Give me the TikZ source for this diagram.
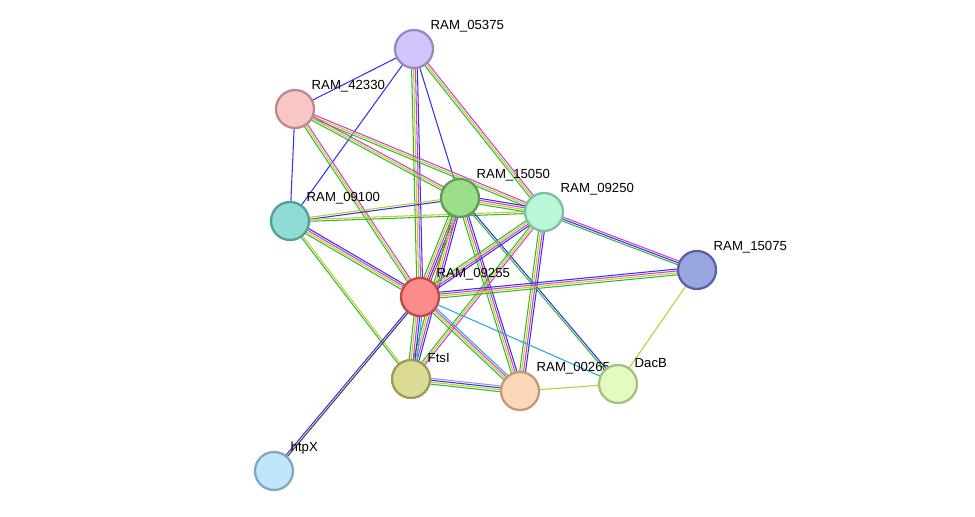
\documentclass[tikz,border=0pt]{standalone}
\usepackage{fontspec}
\setmainfont{Liberation Sans}
\usetikzlibrary{calc,backgrounds}
\definecolor{egreen}{HTML}{33B833}
\definecolor{eyellow}{HTML}{C2CC30}
\definecolor{emag}{HTML}{D03CD0}
\definecolor{eblue}{HTML}{3333E6}
\definecolor{ecyan}{HTML}{22AADD}
\definecolor{elav}{HTML}{A090E8}
\definecolor{ered}{HTML}{E03030}
\definecolor{eblack}{HTML}{404040}
\definecolor{fLav}{HTML}{D4C4FC}\definecolor{dLav}{HTML}{9A88C4}
\definecolor{fPink}{HTML}{F9C6C6}\definecolor{dPink}{HTML}{C08888}
\definecolor{fGreen}{HTML}{9CDE8C}\definecolor{dGreen}{HTML}{5E9E50}
\definecolor{fMint}{HTML}{B8F8D8}\definecolor{dMint}{HTML}{80C0A0}
\definecolor{fTeal}{HTML}{90DCD4}\definecolor{dTeal}{HTML}{50A098}
\definecolor{fBlue}{HTML}{9AA6E0}\definecolor{dBlue}{HTML}{5860A8}
\definecolor{fRed}{HTML}{FC8C8C}\definecolor{dRed}{HTML}{C04848}
\definecolor{fKhaki}{HTML}{DCDA94}\definecolor{dKhaki}{HTML}{9C9A58}
\definecolor{fPeach}{HTML}{FDD8B8}\definecolor{dPeach}{HTML}{C09A7A}
\definecolor{fLime}{HTML}{E2FCC0}\definecolor{dLime}{HTML}{A4C080}
\definecolor{fSky}{HTML}{C0E6FC}\definecolor{dSky}{HTML}{80A8C0}
\tikzset{
  prot/.style 2 args={circle, draw=#2, fill=#1, line width=1.3pt, minimum size=0.76cm, inner sep=0pt},
  lbl/.style={font=\fontsize{7.5}{8}\selectfont, inner sep=0pt, label distance=0.06cm}
}
\newcommand{\edge}[3]{%
  \xdef\ncol{0}\foreach \c in {#3}{\xdef\ncol{\the\numexpr\ncol+1\relax}}%
  \foreach \c [count=\i] in {#3}{%
    \pgfmathsetmacro{\off}{(\i-(\ncol+1)/2)*1.1}
    \draw[\c, line width=0.6pt] ($(#1)!\off pt!90:(#2)$) -- ($(#2)!\off pt!-90:(#1)$);
  }}

\begin{document}
\begin{tikzpicture}[x=0.02cm, y=-0.02cm]
    \useasboundingbox (0,0) rectangle (975,517);
    % Place nodes
    \node [prot={fLav}{dLav}, label={[lbl]45:RAM\_05375}] (n05375) at (414,49) {};
    \node [prot={fPink}{dPink}, label={[lbl]45:RAM\_42330}] (n42330) at (295,109) {};
    \node [prot={fGreen}{dGreen}, label={[lbl]45:RAM\_15050}] (n15050) at (460,198) {};
    \node [prot={fMint}{dMint}, label={[lbl]45:RAM\_09250}] (n09250) at (544,212) {};
    \node [prot={fTeal}{dTeal}, label={[lbl]45:RAM\_09100}] (n09100) at (290,221) {};
    \node [prot={fBlue}{dBlue}, label={[lbl]45:RAM\_15075}] (n15075) at (697,270) {};
    \node [prot={fRed}{dRed}, label={[lbl]45:RAM\_09255}] (n09255) at (420,297) {};
    \node [prot={fKhaki}{dKhaki}, label={[lbl]45:FtsI}] (ftsI) at (411,379) {};
    \node [prot={fPeach}{dPeach}, label={[lbl]45:RAM\_00265}] (n00265) at (520,391) {};
    \node [prot={fLime}{dLime}, label={[lbl]45:DacB}] (dacB) at (618,384) {};
    \node [prot={fSky}{dSky}, label={[lbl]45:htpX}] (htpX) at (274,471) {};
    % Edges
    \begin{scope}[on background layer]
    \edge{n05375}{n42330}{eblue}
    \edge{n05375}{n09100}{eblue}
    \edge{n05375}{n15050}{eblue}
    \edge{n05375}{n09250}{egreen,eyellow,emag}
    \edge{n05375}{n09255}{egreen,eyellow,emag,eblue}
    \edge{n42330}{n09100}{eblue}
    \edge{n42330}{n09250}{egreen,eyellow,emag}
    \edge{n42330}{n15050}{egreen,eyellow,emag}
    \edge{n42330}{n09255}{egreen,eyellow,emag}
    \edge{n09100}{n15050}{eblue,eyellow}
    \edge{n09100}{n09250}{egreen,eyellow}
    \edge{n09100}{n09255}{egreen,eyellow,emag,eblue}
    \edge{n09100}{ftsI}{egreen,eyellow}
    \edge{n15050}{n09250}{egreen,eyellow,emag,eblue}
    \edge{n15050}{n09255}{egreen,eyellow,emag,eblue,ered}
    \edge{n15050}{ftsI}{egreen,eyellow,emag,eblue}
    \edge{n15050}{n00265}{egreen,eyellow,emag,eblue}
    \edge{n15050}{dacB}{egreen,eblue}
    \edge{n09250}{n15075}{egreen,eblue,emag}
    \edge{n09250}{n09255}{egreen,eyellow,emag,eblue}
    \edge{n09250}{ftsI}{egreen,eyellow,emag}
    \edge{n09250}{n00265}{egreen,eyellow,emag,eblue}
    \edge{n09255}{n15075}{egreen,eyellow,emag,eblue}
    \edge{n09255}{ftsI}{egreen,eyellow,emag,eblue,ecyan}
    \edge{n09255}{n00265}{egreen,eyellow,emag,ecyan}
    \edge{n09255}{dacB}{ecyan}
    \edge{n09255}{htpX}{eblue,eblack}
    \edge{ftsI}{n00265}{egreen,eyellow,eblue,elav}
    \edge{n00265}{dacB}{eyellow}
    \edge{n15075}{dacB}{eyellow}
    \end{scope}
\end{tikzpicture}
\end{document}
